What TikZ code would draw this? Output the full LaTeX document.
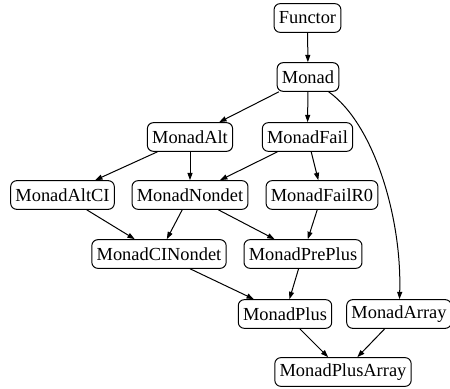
\documentclass[tikz,border=0pt]{standalone}
\usepackage{fontspec}
\setmainfont{Liberation Serif}
\usetikzlibrary{arrows.meta}

\tikzset{
    cls/.style={draw, rounded corners=4.5pt, line width=0.75pt, inner xsep=3.6pt, inner ysep=0pt,
        minimum height=21.5pt, font=\fontsize{13.8}{15}\selectfont},
    arr/.style={line width=0.75pt, -{Triangle[length=5.5pt,width=3.8pt]}}
}

\begin{document}
\begin{tikzpicture}[x=0.75pt,y=0.75pt,yscale=-1,xscale=1]
    \useasboundingbox (0,0) rectangle (450,389);

    % Nodes
    \node [cls] (functor) at (307.5,18) {Functor};
    \node [cls] (monad) at (308,77) {Monad};
    \node [cls] (monadalt) at (190,137) {MonadAlt};
    \node [cls] (monadfail) at (307.5,137) {MonadFail};
    \node [cls] (monadaltci) at (62.5,195) {MonadAltCI};
    \node [cls] (monadnondet) at (190,195) {MonadNondet};
    \node [cls] (monadfailr0) at (322,195) {MonadFailR0};
    \node [cls] (monadcinondet) at (159,254) {MonadCINondet};
    \node [cls] (monadpreplus) at (303,254) {MonadPrePlus};
    \node [cls] (monadplus) at (285,314) {MonadPlus};
    \node [cls] (monadarray) at (399,314) {MonadArray};
    \node [cls] (monadplusarray) at (343,372) {MonadPlusArray};

    % Edges
    \draw [arr] (functor) -- (monad);
    \draw [arr] (monad) -- (monadalt);
    \draw [arr] (monad) -- (monadfail);
    \draw [arr] (monad) .. controls (375,125) and (402,220) .. (monadarray);
    \draw [arr] (monadalt) -- (monadaltci);
    \draw [arr] (monadalt) -- (monadnondet);
    \draw [arr] (monadfail) -- (monadnondet);
    \draw [arr] (monadfail) -- (monadfailr0);
    \draw [arr] (monadaltci) -- (monadcinondet);
    \draw [arr] (monadnondet) -- (monadcinondet);
    \draw [arr] (monadnondet) -- (monadpreplus);
    \draw [arr] (monadfailr0) -- (monadpreplus);
    \draw [arr] (monadcinondet) -- (monadplus);
    \draw [arr] (monadpreplus) -- (monadplus);
    \draw [arr] (monadplus) -- (monadplusarray);
    \draw [arr] (monadarray) -- (monadplusarray);

\end{tikzpicture}
\end{document}
